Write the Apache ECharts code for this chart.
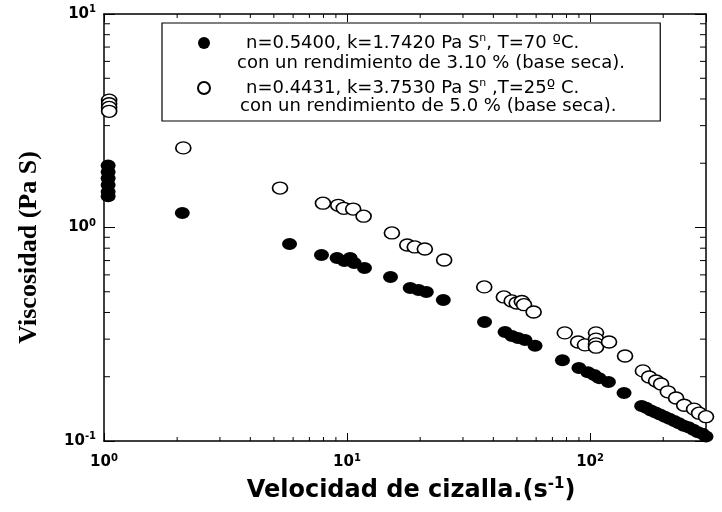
<!DOCTYPE html>
<html>
<head>
<meta charset="utf-8">
<script src="https://cdn.jsdelivr.net/npm/echarts@6.0.0/dist/echarts.min.js"></script>
<style>
  html, body { margin: 0; padding: 0; background: #fff; }
  #chart { width: 722px; height: 512px; }
</style>
</head>
<body>
<div id="chart"></div>
<script>
// ---- data (shear rate s^-1, viscosity Pa S) ----
const filledX = [1.04, 1.04, 1.04, 1.04, 1.04, 1.04, 2.1, 5.8, 7.85, 9.1, 9.75, 10.3, 10.7, 11.8, 15.1,
  18.2, 19.7, 21.2, 24.9, 36.8, 44.7, 47.7, 50.5, 54.0, 59.4, 77, 90, 98, 104, 109, 119, 138,
  163, 170, 178, 186, 194, 203, 212, 222, 232, 243, 254, 266, 278, 290, 300];
const filledY = [1.95, 1.82, 1.70, 1.58, 1.47, 1.40, 1.17, 0.838, 0.743, 0.72, 0.697, 0.72, 0.682, 0.646, 0.586,
  0.521, 0.51, 0.499, 0.457, 0.361, 0.324, 0.310, 0.304, 0.297, 0.279, 0.239, 0.220, 0.210, 0.204, 0.197, 0.189, 0.168,
  0.146, 0.143, 0.139, 0.136, 0.133, 0.130, 0.127, 0.124, 0.121, 0.118, 0.116, 0.113, 0.110, 0.108, 0.105];

const openX = [1.05, 1.05, 1.05, 1.05, 2.12, 5.3, 7.96, 9.2, 9.7, 10.6, 11.7, 15.3, 17.7, 19.0, 20.9, 25.1,
  36.7, 44.2, 47.6, 49.9, 52.4, 53.5, 58.6, 78.7, 89.3, 95.3, 105.8, 105.8, 105.8, 105.8, 119.7, 139.3,
  165, 175, 187, 196, 209, 226, 244, 268, 281, 300];
const openY = [3.95, 3.8, 3.65, 3.5, 2.36, 1.53, 1.30, 1.27, 1.23, 1.22, 1.13, 0.943, 0.828, 0.811, 0.793, 0.704,
  0.527, 0.473, 0.453, 0.443, 0.45, 0.435, 0.402, 0.321, 0.291, 0.282, 0.321, 0.30, 0.285, 0.275, 0.291, 0.250,
  0.213, 0.1995, 0.191, 0.185, 0.170, 0.159, 0.147, 0.141, 0.135, 0.130];

const filledName = 'T=70 ºC';
const openName = 'T=25 ºC';
const legendLine1 = 'n=0.5400, k=1.7420 Pa S{sup|n}, T=70 ºC.';
const legendLine2 = 'con un rendimiento de 3.10 % (base seca).';
const legendLine3 = 'n=0.4431, k=3.7530 Pa S{sup|n} ,T=25º C.';
const legendLine4 = 'con un rendimiento de 5.0 % (base seca).';

const xName = 'Velocidad de cizalla.(s{s|-1})';
const yName = 'Viscosidad (Pa S)';

// axis ranges and minor tick values
const X_MIN = 1, X_MAX = 300;
const Y_MIN = 0.1, Y_MAX = 10;
const xMinorTicks = [2, 3, 4, 5, 6, 7, 8, 9, 20, 30, 40, 50, 60, 70, 80, 90, 200];
const yMinorTicks = [0.2, 0.3, 0.4, 0.5, 0.6, 0.7, 0.8, 0.9, 2, 3, 4, 5, 6, 7, 8, 9];

// ---- chart ----
const SANS_B = '"DejaVu Sans"';
const chart = echarts.init(document.getElementById('chart'), null, { renderer: 'canvas' });

function powLabel(v) {
  const e = Math.round(Math.log10(v));
  if (Math.abs(Math.pow(10, e) - v) / v > 1e-6) return '';
  return '{b|10}{s|' + e + '}';
}
const labelRich = {
  b: { fontFamily: SANS_B, fontWeight: 'bold', fontSize: 15, lineHeight: 19, color: '#000' },
  s: { fontFamily: SANS_B, fontWeight: 'bold', fontSize: 10, lineHeight: 19, verticalAlign: 'top', color: '#000' }
};
const axisLineStyle = { color: '#000', width: 1.5 };

function xMinorRender(params, api) {
  const v = api.value(0);
  const b = api.coord([v, Y_MIN]);
  const t = api.coord([v, Y_MAX]);
  const len = 4;
  const st = { stroke: '#000', lineWidth: 1 };
  return { type: 'group', children: [
    { type: 'line', shape: { x1: b[0], y1: b[1], x2: b[0], y2: b[1] - len }, style: st },
    { type: 'line', shape: { x1: t[0], y1: t[1], x2: t[0], y2: t[1] + len }, style: st }
  ]};
}
function yMinorRender(params, api) {
  const v = api.value(1);
  const l = api.coord([X_MIN, v]);
  const r = api.coord([X_MAX, v]);
  const len = 6;
  const st = { stroke: '#000', lineWidth: 1 };
  return { type: 'group', children: [
    { type: 'line', shape: { x1: l[0], y1: l[1], x2: l[0] + len, y2: l[1] }, style: st },
    { type: 'line', shape: { x1: r[0], y1: r[1], x2: r[0] - len, y2: r[1] }, style: st }
  ]};
}

const option = {
  backgroundColor: '#fff',
  animation: false,
  grid: { left: 104, right: 16, top: 14, bottom: 71 },
  xAxis: [{
    type: 'log', logBase: 10, min: X_MIN, max: X_MAX, position: 'bottom',
    axisLine: { lineStyle: axisLineStyle },
    axisTick: { inside: true, length: 8, lineStyle: { color: '#000', width: 1 } },
    axisLabel: { formatter: powLabel, rich: labelRich, margin: 12, showMaxLabel: false },
    splitLine: { show: false },
    name: xName, nameLocation: 'middle', nameGap: 36,
    nameTextStyle: {
      fontFamily: SANS_B, fontWeight: 'bold', fontSize: 24, color: '#000', padding: [0, 0, 0, 12],
      rich: { s: { fontFamily: SANS_B, fontWeight: 'bold', fontSize: 15, verticalAlign: 'top', lineHeight: 28, color: '#000' } }
    }
  }, {
    type: 'log', logBase: 10, min: X_MIN, max: X_MAX, position: 'top',
    axisLine: { lineStyle: axisLineStyle },
    axisTick: { inside: true, length: 8, lineStyle: { color: '#000', width: 1 } },
    axisLabel: { show: false }, splitLine: { show: false }
  }],
  yAxis: [{
    type: 'log', logBase: 10, min: Y_MIN, max: Y_MAX, position: 'left',
    axisLine: { lineStyle: axisLineStyle },
    axisTick: { inside: true, length: 11, lineStyle: { color: '#000', width: 1 } },
    axisLabel: { formatter: powLabel, rich: labelRich, margin: 8 },
    splitLine: { show: false },
    name: yName, nameLocation: 'middle', nameGap: 62, nameRotate: 90,
    nameTextStyle: { fontFamily: '"Liberation Serif"', fontWeight: 'bold', fontSize: 26, color: '#000', padding: [0, 40, 0, 0] }
  }, {
    type: 'log', logBase: 10, min: Y_MIN, max: Y_MAX, position: 'right',
    axisLine: { lineStyle: axisLineStyle },
    axisTick: { inside: true, length: 11, lineStyle: { color: '#000', width: 1 } },
    axisLabel: { show: false }, splitLine: { show: false }
  }],
  legend: {
    data: [filledName, openName],
    orient: 'vertical',
    left: 162, top: 23,
    padding: [10, 81, 23, 35],
    itemGap: 25,
    itemWidth: 16, itemHeight: 12,
    icon: 'circle',
    borderColor: '#000', borderWidth: 1.2,
    formatter: function (name) { return name === filledName ? legendLine1 : legendLine3; },
    textStyle: {
      fontFamily: SANS_B, fontSize: 18, color: '#000', lineHeight: 20, padding: [0, 0, 0, 29],
      rich: { sup: { fontFamily: SANS_B, fontSize: 11, verticalAlign: 'top', lineHeight: 20, color: '#000' } }
    }
  },
  graphic: [
    { type: 'text', left: 237, top: 54, style: { text: legendLine2, font: '18px "DejaVu Sans"', fill: '#000' } },
    { type: 'text', left: 240, top: 97, style: { text: legendLine4, font: '18px "DejaVu Sans"', fill: '#000' } }
  ],
  series: [
    {
      name: filledName, type: 'scatter', clip: false, z: 3,
      symbol: 'circle', symbolSize: [15, 12],
      itemStyle: { color: '#000', opacity: 1 },
      data: filledX.map((x, i) => [x, filledY[i]])
    },
    {
      name: openName, type: 'scatter', clip: false, z: 4,
      symbol: 'circle', symbolSize: [15, 12],
      itemStyle: { color: '#fff', borderColor: '#000', borderWidth: 1.5, opacity: 1 },
      data: openX.map((x, i) => [x, openY[i]])
    },
    {
      type: 'custom', silent: true, z: 1, clip: false,
      renderItem: xMinorRender,
      data: xMinorTicks.map(v => [v, Y_MIN])
    },
    {
      type: 'custom', silent: true, z: 1, clip: false,
      renderItem: yMinorRender,
      data: yMinorTicks.map(v => [X_MIN, v])
    }
  ]
};
chart.setOption(option);
</script>
</body>
</html>
